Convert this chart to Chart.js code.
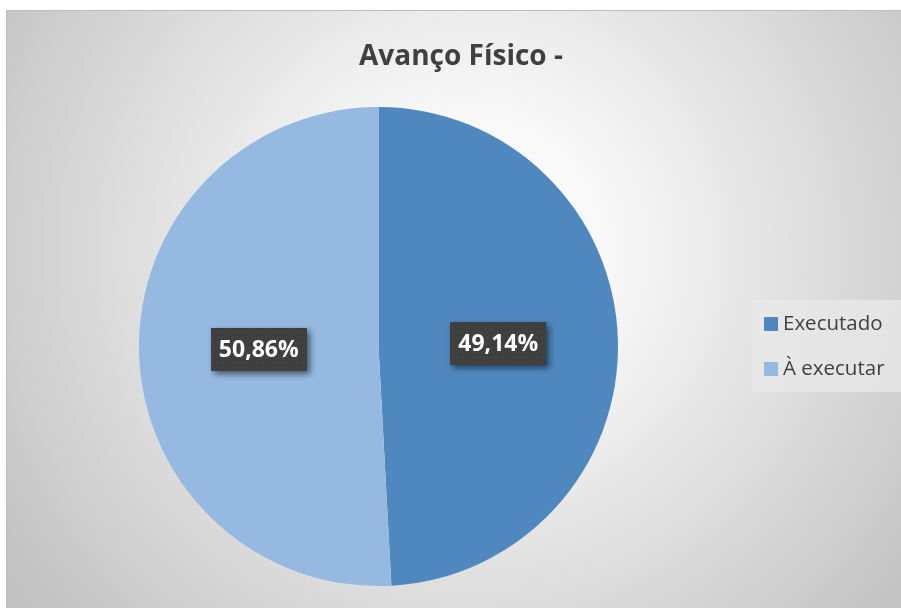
<!DOCTYPE html>
<html>
<head>
<meta charset="utf-8">
<script src="https://cdn.jsdelivr.net/npm/chart.js@4/dist/chart.umd.min.js"></script>
<style>
  body { margin: 0; background: #fff; }
  canvas { display: block; }
</style>
</head>
<body>
<canvas id="pieChart" width="901" height="608"></canvas>
<script>
const pieChart = document.getElementById('pieChart');

const chartTitle = 'Avanço Físico -';
const categories = ['Executado', 'À executar'];
const percentValues = [49.14, 50.86];
const sliceColors = ['#4F88BF', '#95B9E1'];

const fontFamily = '"Open Sans", "Noto Sans", sans-serif';

// dotted dark fill used behind the data labels
const makeDotPattern = (ctx) => {
	const tile = document.createElement('canvas');
	tile.width = 5;
	tile.height = 5;
	const t = tile.getContext('2d');
	t.fillStyle = '#3f3f3f';
	t.fillRect(0, 0, 5, 5);
	t.fillStyle = '#4d4d4d';
	t.fillRect(2, 2, 1, 1);
	return ctx.createPattern(tile, 'repeat');
};

const backgroundPlugin = {
	id: 'background',
	beforeDraw(chart) {
		const ctx = chart.ctx;
		ctx.save();
		ctx.fillStyle = '#fff';
		ctx.fillRect(0, 0, chart.width, chart.height);
		const grad = ctx.createRadialGradient(470, 250, 0, 470, 250, 560);
		grad.addColorStop(0, '#ffffff');
		grad.addColorStop(0.25, '#f8f8f8');
		grad.addColorStop(1, '#c2c2c2');
		ctx.fillStyle = grad;
		ctx.fillRect(6, 10, chart.width - 6, chart.height - 10);
		ctx.strokeStyle = '#bdbdbd';
		ctx.lineWidth = 1;
		ctx.beginPath();
		ctx.moveTo(6.5, chart.height);
		ctx.lineTo(6.5, 10.5);
		ctx.lineTo(chart.width, 10.5);
		ctx.stroke();

		ctx.fillStyle = '#404040';
		ctx.font = 'bold 28px ' + fontFamily;
		ctx.textAlign = 'center';
		ctx.textBaseline = 'middle';
		ctx.fillText(chartTitle, 461, 57);
		ctx.restore();
	},
};

const labelPlugin = {
	id: 'sliceLabels',
	afterDatasetsDraw(chart) {
		const ctx = chart.ctx;
		const meta = chart.getDatasetMeta(0);
		const pattern = makeDotPattern(ctx);
		ctx.save();
		ctx.font = 'bold 23px ' + fontFamily;
		meta.data.forEach((arc, i) => {
			const pos = arc.tooltipPosition();
			const text = percentValues[i].toFixed(2).replace('.', ',') + '%';
			const w = ctx.measureText(text).width + 16;
			const h = 43;
			ctx.save();
			ctx.shadowColor = 'rgba(0,0,0,0.55)';
			ctx.shadowBlur = 6;
			ctx.shadowOffsetX = 3;
			ctx.shadowOffsetY = 3;
			ctx.fillStyle = pattern;
			ctx.fillRect(Math.round(pos.x - w / 2), Math.round(pos.y - h / 2), Math.round(w), h);
			ctx.restore();
			ctx.fillStyle = '#fff';
			ctx.textAlign = 'center';
			ctx.textBaseline = 'middle';
			ctx.fillText(text, pos.x, pos.y + 1);
		});
		ctx.restore();
	},
};

const legendPlugin = {
	id: 'sideLegend',
	afterDraw(chart) {
		const ctx = chart.ctx;
		ctx.save();
		ctx.fillStyle = 'rgba(232,232,232,0.8)';
		ctx.fillRect(752, 300, 149, 92);
		ctx.font = '20.5px ' + fontFamily;
		ctx.textBaseline = 'middle';
		chart.data.labels.forEach((label, i) => {
			const y = 324 + i * 45;
			ctx.fillStyle = chart.data.datasets[0].backgroundColor[i];
			ctx.fillRect(764, y - 7, 14, 14);
			ctx.fillStyle = '#404040';
			ctx.fillText(label, 783, y);
		});
		ctx.restore();
	},
};

const newPieChart = new Chart(pieChart, {
	type: 'pie',
	data: {
		labels: categories,
		datasets: [
			{
				data: percentValues,
				backgroundColor: sliceColors,
				borderWidth: 0,
			},
		],
	},
	options: {
		responsive: false,
		animation: false,
		layout: {
			padding: { top: 107, bottom: 22, left: 139, right: 283 },
		},
		plugins: {
			legend: { display: false },
			title: { display: false },
			tooltip: { enabled: false },
		},
	},
	plugins: [backgroundPlugin, labelPlugin, legendPlugin],
});
</script>
</body>
</html>
